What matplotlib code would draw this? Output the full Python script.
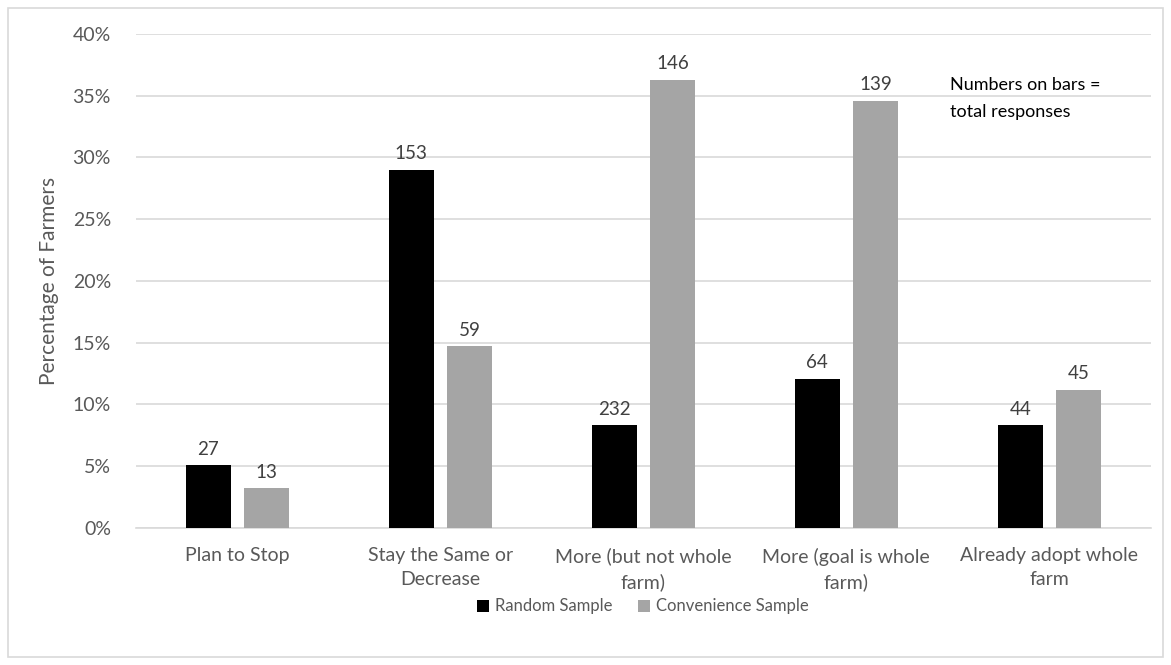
import numpy as np
import matplotlib
matplotlib.use('Agg')
import matplotlib.pyplot as plt
from matplotlib.patches import Rectangle
from matplotlib.ticker import PercentFormatter

plt.rcParams['font.family'] = ['Lato', 'DejaVu Sans']

# Data
categories = ['Plan to Stop', 'Stay the Same or\nDecrease', 'More (but not whole\nfarm)',
              'More (goal is whole\nfarm)', 'Already adopt whole\nfarm']
random_pct = [5.1, 29.0, 8.3, 12.1, 8.3]
convenience_pct = [3.2, 14.7, 36.3, 34.6, 11.2]
random_n = [27, 153, 232, 64, 44]
convenience_n = [13, 59, 146, 139, 45]

fig = plt.figure(figsize=(11.71, 6.65), dpi=100)
ax = fig.add_axes([0.1161, 0.206, 0.8666, 0.743])

x = np.arange(len(categories))
w = 0.224
off = 0.143
b1 = ax.bar(x - off, random_pct, w, color='#000000', label='Random Sample', zorder=3)
b2 = ax.bar(x + off, convenience_pct, w, color='#a5a5a5', label='Convenience Sample', zorder=3)

# Labels on top of bars = total responses
for bars, counts in [(b1, random_n), (b2, convenience_n)]:
    for b, n in zip(bars, counts):
        ax.text(b.get_x() + b.get_width() / 2, b.get_height() + 0.6, str(n),
                ha='center', va='bottom', fontsize=13.5, color='#404040')

ax.set_xlim(-0.5, len(categories) - 0.5)
ax.set_ylim(0, 40)
ax.set_yticks(np.arange(0, 41, 5))
ax.yaxis.set_major_formatter(PercentFormatter(decimals=0))
ax.grid(axis='y', color='#d9d9d9', linewidth=1.2, zorder=0)
for s in ['top', 'right', 'left']:
    ax.spines[s].set_visible(False)
ax.spines['bottom'].set_color('#d9d9d9')
ax.spines['bottom'].set_linewidth(1.2)
ax.tick_params(axis='both', length=0, labelsize=14, colors='#595959')
ax.tick_params(axis='y', pad=18)
ax.tick_params(axis='x', pad=14)
ax.set_xticks(x)
ax.set_xticklabels(categories, linespacing=1.5)
ax.set_ylabel('Percentage of Farmers', fontsize=15, color='#595959', labelpad=10)

ax.text(0.802, 0.912, 'Numbers on bars =\ntotal responses', transform=ax.transAxes,
        fontsize=13, color='#000000', va='top', ha='left', linespacing=1.8)

fig.legend(loc='center', bbox_to_anchor=(0.549, 0.088), ncol=2, frameon=False,
           fontsize=12, handlelength=0.75, handleheight=0.75, handletextpad=0.35,
           columnspacing=1.5, labelcolor='#595959')

fig.patches.append(Rectangle((0.007, 0.012), 0.986, 0.976, transform=fig.transFigure,
                             fill=False, edgecolor='#d9d9d9', linewidth=1.2))

fig.savefig('out.png', dpi=100)
